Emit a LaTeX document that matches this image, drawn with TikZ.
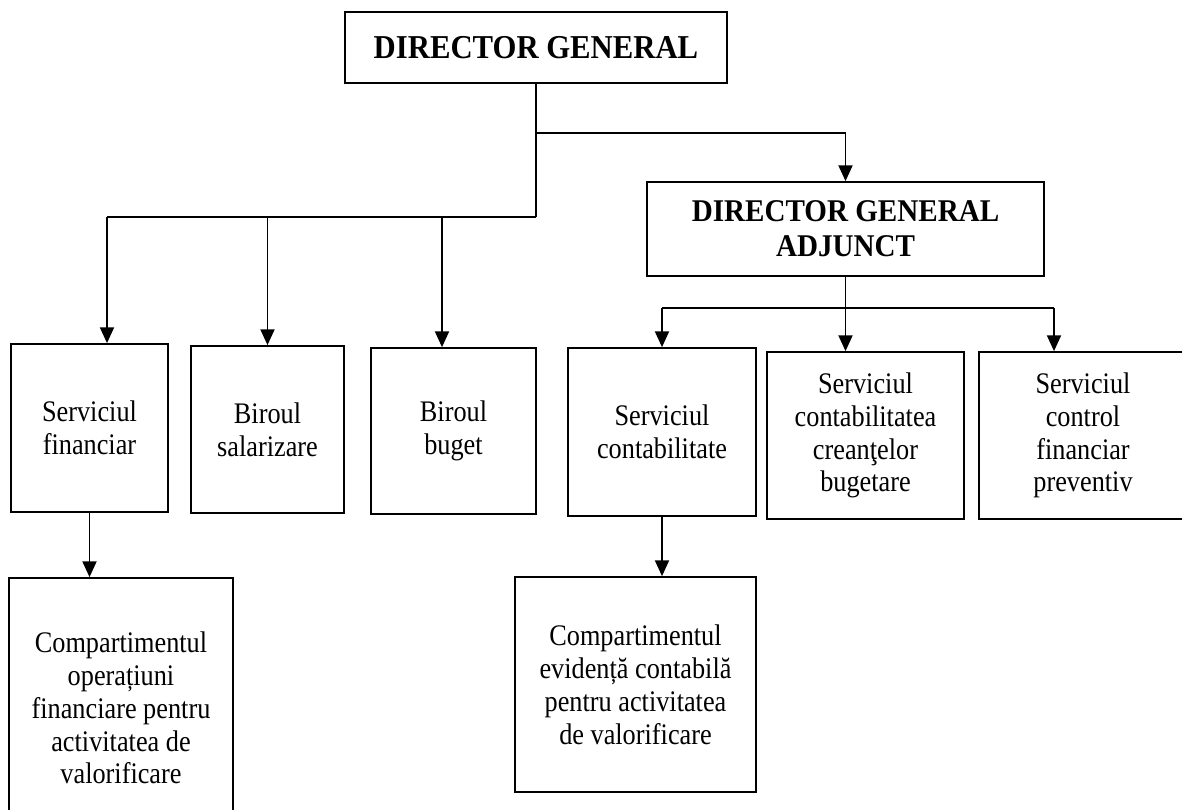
\documentclass[tikz,border=0pt]{standalone}
\usepackage{fontspec}
\setmainfont{Liberation Serif}
\newfontfamily\unitfont[FakeStretch=0.88]{Liberation Serif}
\newfontfamily\headfont[FakeStretch=0.92]{Liberation Serif}
\usetikzlibrary{arrows.meta}

\begin{document}
\begin{tikzpicture}[x=0.02cm,y=-0.02cm,>={Triangle[length=9pt,width=8pt]},line width=1pt,
    title node/.style={draw,align=center,inner sep=0pt,font=\headfont\bfseries\fontsize{19}{21}\selectfont},
    unit node/.style={draw,align=center,inner sep=0pt,font=\unitfont\fontsize{17}{18.7}\selectfont}]
  \useasboundingbox (0,0) rectangle (1182,810);
  % conducere
  \node[title node,minimum width=7.64cm,minimum height=1.42cm] (dg) at (536,47.5) {DIRECTOR GENERAL};
  \node[title node,minimum width=7.94cm,minimum height=1.88cm,font=\headfont\bfseries\fontsize{18}{20}\selectfont] (adj) at (845.5,229) {DIRECTOR GENERAL\\ADJUNCT};
  % servicii si birouri
  \node[unit node,minimum width=3.14cm,minimum height=3.36cm] (fin) at (89.5,428) {Serviciul\\financiar};
  \node[unit node,minimum width=3.06cm,minimum height=3.34cm] (sal) at (267.5,429.5) {Biroul\\salarizare};
  \node[unit node,minimum width=3.3cm,minimum height=3.32cm] (bug) at (453.5,431) {Biroul\\buget};
  \node[unit node,minimum width=3.76cm,minimum height=3.36cm] (cont) at (662,432) {Serviciul\\contabilitate};
  \node[unit node,minimum width=3.94cm,minimum height=3.34cm] (cre) at (865.5,435.5) {Serviciul\\contabilitatea\\creanţelor\\bugetare};
  \node[unit node,minimum width=4.16cm,minimum height=3.34cm] (ctrl) at (1083,435.5) {Serviciul\\control\\financiar\\preventiv};
  % compartimente
  \node[unit node,minimum width=4.48cm,minimum height=5.2cm] (op) at (121,708) {Compartimentul\\operațiuni\\financiare pentru\\activitatea de\\valorificare};
  \node[unit node,minimum width=4.82cm,minimum height=4.3cm] (ev) at (635.5,684.5) {Compartimentul\\evidență contabilă\\pentru activitatea\\de valorificare};
  % legaturi
  \coordinate (top) at (536,133);
  \coordinate (left) at (536,217);
  \coordinate (bl) at (107,217);
  \coordinate (bb) at (442,217);
  \coordinate (cl) at (662,308);
  \coordinate (cr) at (1054,308);
  \draw (dg.south) -- (left);
  \draw[->] (top) -| (adj.north);
  \draw (left) -- (bl);
  \draw[->] (bl) -- (bl |- fin.north);
  \draw[->] (sal.north |- left) -- (sal.north);
  \draw[->] (bb) -- (bb |- bug.north);
  \draw (adj.south) -- (adj.south |- cl);
  \draw (cl) -- (cr);
  \draw[->] (cl) -- (cont.north);
  \draw[->] (adj.south |- cl) -- (cre.north -| adj.south);
  \draw[->] (cr) -- (cr |- ctrl.north);
  \draw[->] (fin.south) -- (fin.south |- op.north);
  \draw[->] (cont.south) -- (cont.south |- ev.north);
\end{tikzpicture}
\end{document}
